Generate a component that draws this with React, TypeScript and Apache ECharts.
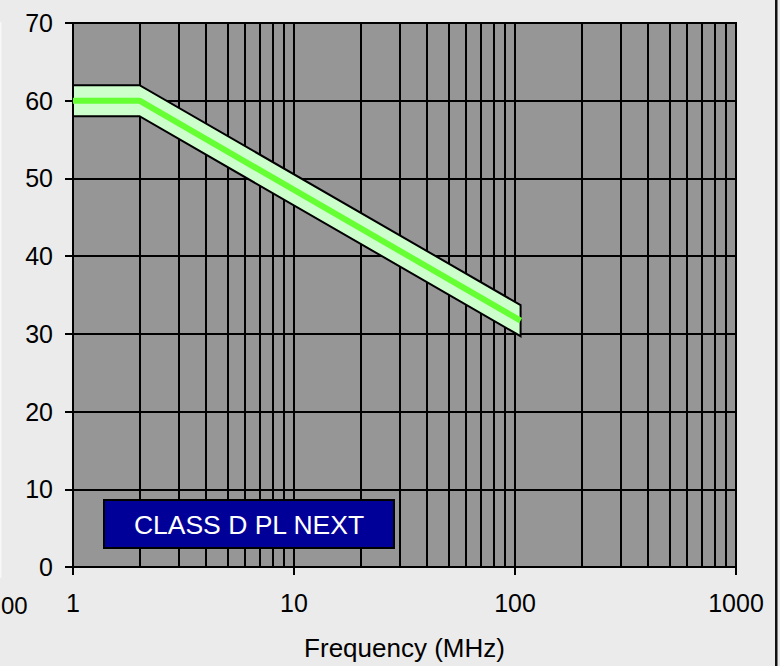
import React, { useEffect, useRef } from "react";
import * as echarts from "echarts";

// Limit line (MHz, dBµV) and its tolerance band
const bandFreq = [1, 2, 106];
const limitLevel = [60, 60, 31.7];
const bandUpper = [62, 62, 33.7];
const bandLower = [58, 58, 29.7];

// Axis ticks
const yTicks = [0, 10, 20, 30, 40, 50, 60, 70];
const xTickLabels = ["1", "10", "100", "1000"];
const decades = [1, 10, 100];
const minorSteps = [2, 3, 4, 5, 6, 7, 8, 9];

const FONT = "'Liberation Sans', Arial, sans-serif";

export default function App() {
  const ref = useRef<HTMLDivElement>(null);

  useEffect(() => {
    if (!ref.current) return;
    const chart = echarts.init(ref.current, undefined, { renderer: "svg" });

    const minorGrid: number[] = [];
    decades.forEach((d) => minorSteps.forEach((s) => minorGrid.push(d * s)));

    const option: any = {
      animation: false,
      backgroundColor: "#ebebeb",
      grid: {
        left: 73,
        top: 23,
        right: 44,
        bottom: 97,
        show: true,
        backgroundColor: "#969696",
        borderColor: "#000",
        borderWidth: 2,
      },
      xAxis: {
        type: "log",
        logBase: 10,
        min: 1,
        max: 1000,
        name: "Frequency (MHz)",
        nameLocation: "middle",
        nameGap: 81,
        nameTextStyle: {
          fontFamily: FONT,
          fontSize: 26,
          color: "#000",
          verticalAlign: "middle",
        },
        axisLine: { show: true, lineStyle: { color: "#000", width: 2 } },
        axisTick: { show: true, length: 8, lineStyle: { color: "#000", width: 2 } },
        axisLabel: {
          fontFamily: FONT,
          fontSize: 25,
          color: "#000",
          margin: 23,
          formatter: (v: number) => {
            const i = Math.round(Math.log10(v));
            return xTickLabels[i] ?? String(v);
          },
        },
        splitLine: { show: true, lineStyle: { color: "#000", width: 2 } },
        minorTick: { show: false },
        minorSplitLine: { show: false },
      },
      yAxis: {
        type: "value",
        min: yTicks[0],
        max: yTicks[yTicks.length - 1],
        interval: 10,
        axisLine: { show: true, lineStyle: { color: "#000", width: 2 } },
        axisTick: { show: true, length: 8, lineStyle: { color: "#000", width: 2 } },
        axisLabel: {
          fontFamily: FONT,
          fontSize: 25,
          color: "#000",
          margin: 20,
        },
        splitLine: { show: true, lineStyle: { color: "#000", width: 2 } },
      },
      series: [
        {
          type: "line",
          name: "grid",
          data: [[1, 0]],
          symbol: "none",
          lineStyle: { opacity: 0 },
          silent: true,
          z: 1,
          markLine: {
            z: 1,
            silent: true,
            symbol: ["none", "none"],
            label: { show: false },
            lineStyle: { color: "#000", width: 2, type: "solid" },
            data: minorGrid.map((x) => ({ xAxis: x })),
          },
        },
        {
          type: "custom",
          name: "band",
          z: 10,
          silent: true,
          encode: { x: 0, y: [1, 2] },
          data: bandFreq.map((f, i) => [f, bandUpper[i], bandLower[i]]),
          renderItem: (params: any, api: any) => {
            if (params.dataIndex !== 0) return null;
            const pts: number[][] = [];
            for (let i = 0; i < bandFreq.length; i++) {
              pts.push(api.coord([bandFreq[i], bandUpper[i]]));
            }
            for (let i = bandFreq.length - 1; i >= 0; i--) {
              pts.push(api.coord([bandFreq[i], bandLower[i]]));
            }
            return {
              type: "polygon",
              shape: { points: pts },
              style: { fill: "#ccffcc", stroke: "#000", lineWidth: 2 },
            };
          },
        },
        {
          type: "line",
          name: "limit",
          z: 11,
          data: bandFreq.map((f, i) => [f, limitLevel[i]]),
          symbol: "none",
          lineStyle: { color: "#66ff33", width: 6 },
          silent: true,
        },
      ],
      graphic: [
        {
          type: "rect",
          z: 100,
          shape: { x: 104, y: 500, width: 290, height: 48 },
          style: { fill: "#000099", stroke: "#000", lineWidth: 2 },
        },
        {
          type: "text",
          z: 101,
          x: 249,
          y: 525,
          style: {
            text: "CLASS D PL NEXT",
            fill: "#fff",
            fontFamily: FONT,
            fontSize: 26.5,
            align: "center",
            verticalAlign: "middle",
          },
        },
        {
          type: "text",
          x: 1,
          y: 605,
          style: {
            text: "00",
            fill: "#000",
            fontFamily: FONT,
            fontSize: 24,
            align: "left",
            verticalAlign: "middle",
          },
        },
        {
          type: "rect",
          shape: { x: 0, y: 22, width: 1.5, height: 556 },
          style: { fill: "#f8f8f8" },
        },
        {
          type: "rect",
          shape: { x: 775, y: 0, width: 2.5, height: 666 },
          style: { fill: "#111" },
        },
      ],
    };

    chart.setOption(option);
    return () => chart.dispose();
  }, []);

  return (
    <div
      ref={ref}
      style={{ position: "fixed", left: 0, top: 0, width: 780, height: 666 }}
    />
  );
}
